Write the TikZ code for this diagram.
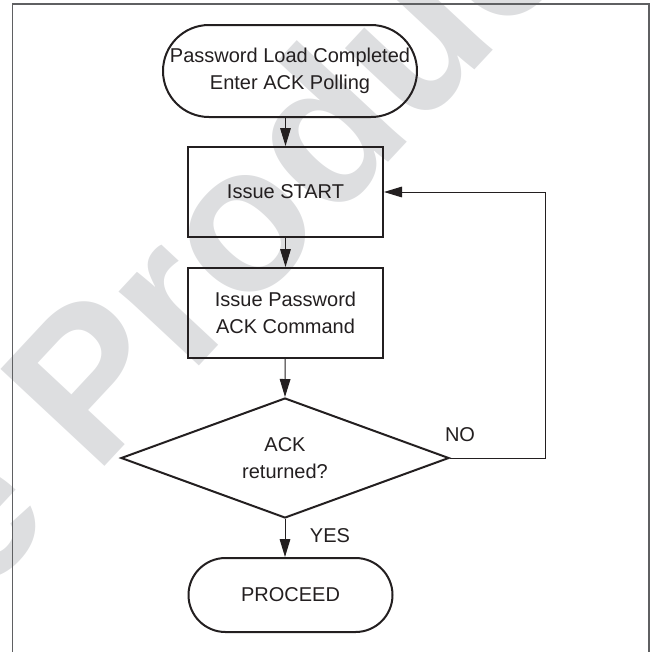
\documentclass[tikz,border=0pt]{standalone}
\usepackage{fontspec}
\setmainfont{Liberation Sans}
\usepackage{tikz}
\usetikzlibrary{shapes}
\usetikzlibrary{arrows.meta}

\definecolor{ink}{RGB}{35,31,32}
\definecolor{framegray}{RGB}{95,96,98}
\definecolor{wmgray}{RGB}{221,222,224}

\tikzset{
  every node/.style={font=\fontsize{15}{20}\selectfont, text=ink},
  procbox/.style={draw=ink, line width=1.5pt, minimum width=146.25pt, minimum height=67.5pt, inner sep=0pt, align=center},
  termnode/.style={draw=ink, line width=1.5pt, inner sep=0pt, align=center},
  decnode/.style={draw=ink, line width=1.5pt, diamond, aspect=2.73, minimum width=246pt, minimum height=90pt, inner sep=0pt, align=center},
  arr/.style={draw=ink, line width=0.75pt, -{Triangle[length=13.5pt,width=8pt]}},
  wmark/.style={text=wmgray, font=\fontsize{155}{155}\selectfont\bfseries, inner sep=0pt}
}

\begin{document}
\begin{tikzpicture}[x=0.75pt,y=0.75pt,yscale=-1,xscale=1]
\useasboundingbox (0,0) rectangle (657,651);

%Watermark
\begin{scope}
\clip (0,0) rectangle (657,651);
\draw (-22,603) node [wmark, anchor=base west, rotate=47] (wm) {e Product};
\end{scope}

%Frame
\draw [framegray, line width=1pt]  (12.7,655) -- (12.7,4) -- (649,4) -- (649,655) ;

%Flowchart Terminals [id:start]
\draw (290,71) node [termnode, minimum width=190.5pt, minimum height=69pt, rounded corners=34.5pt] (start) {Password Load Completed\\Enter ACK Polling};
%Flowchart Process [id:istart]
\draw (285.5,192) node [procbox] (istart) {Issue START};
%Flowchart Process [id:ipass]
\draw (285.5,313) node [procbox] (ipass) {Issue Password\\ACK Command};
%Flowchart Decision [id:dec]
\draw (285,458) node [decnode] (dec) {ACK\\returned?};
%Flowchart Terminals [id:proceed]
\draw (290.5,595) node [termnode, minimum width=153pt, minimum height=55.5pt, rounded corners=27.75pt] (proceed) {PROCEED};

%Straight Lines
\draw [arr] (start.south -| istart) -- (istart) ;
\draw [arr] (istart) -- (ipass) ;
\draw [arr] (ipass) -- (dec.north) ;
\draw [arr] (dec.south) -- (dec.south |- proceed.north) ;
%Loop back
\coordinate (loopc) at (545.5,458) ;
\draw [arr] (dec.east) -- (loopc) |- (istart.east) ;

% Text Node
\draw (460,435) node (no) {NO};
% Text Node
\draw (330,536) node (yes) {YES};

\end{tikzpicture}
\end{document}
